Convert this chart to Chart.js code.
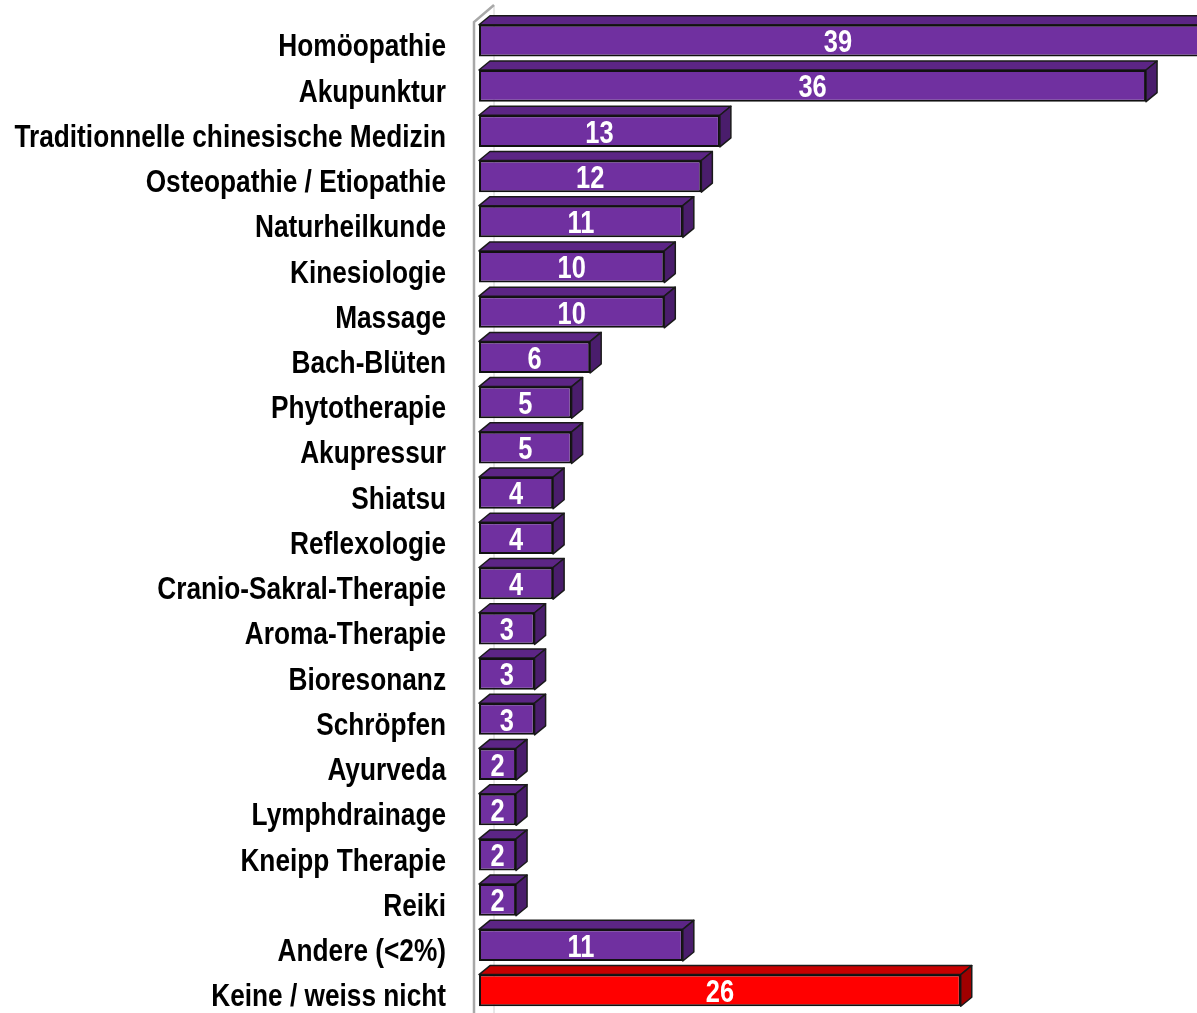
<!DOCTYPE html>
<html>
<head>
<meta charset="utf-8">
<script src="https://cdn.jsdelivr.net/npm/chart.js@4.4.1/dist/chart.umd.min.js"></script>
<style>
  html, body { margin: 0; padding: 0; background: #fff; }
  #wrap { width: 1197px; height: 1013px; position: relative; }
</style>
</head>
<body>
<div id="wrap"><canvas id="methodsChart"></canvas></div>
<script>
// Kategorien und Werte (%)
const CATEGORIES = [
  'Homöopathie', 'Akupunktur', 'Traditionnelle chinesische Medizin',
  'Osteopathie / Etiopathie', 'Naturheilkunde', 'Kinesiologie', 'Massage',
  'Bach-Blüten', 'Phytotherapie', 'Akupressur', 'Shiatsu', 'Reflexologie',
  'Cranio-Sakral-Therapie', 'Aroma-Therapie', 'Bioresonanz', 'Schröpfen',
  'Ayurveda', 'Lymphdrainage', 'Kneipp Therapie', 'Reiki',
  'Andere (<2%)', 'Keine / weiss nicht'
];
const VALUES = [39, 36, 13, 12, 11, 10, 10, 6, 5, 5, 4, 4, 4, 3, 3, 3, 2, 2, 2, 2, 11, 26];

// Farben: Front / Oberseite / Seite
const PURPLE = { front: '#7030A0', top: '#5C2585', side: '#4A1D6C' };
const RED    = { front: '#FF0000', top: '#C80000', side: '#A00000' };
const PALETTE = CATEGORIES.map(c => c.startsWith('Keine') ? RED : PURPLE);

// keine Narrow-Schrift vorhanden -> horizontal stauchen
const FONT = "'Liberation Sans', Arial, sans-serif";
const NARROW = 0.82;
const DEPTH_X = 11;
const DEPTH_Y = 9;

function narrowText(ctx, text, x, y) {
  ctx.save();
  ctx.translate(x, y);
  ctx.scale(NARROW, 1);
  ctx.fillText(text, 0, 0);
  ctx.restore();
}

// Wand links (3D-Achse)
const wallPlugin = {
  id: 'wall',
  beforeDatasetsDraw(chart) {
    const { ctx, chartArea } = chart;
    const x0 = chartArea.left - 5;
    ctx.save();
    ctx.strokeStyle = '#d0d0d0';
    ctx.lineWidth = 1;
    ctx.beginPath();
    ctx.moveTo(x0 + 20, 5);
    ctx.lineTo(x0 + 20, chart.height);
    ctx.stroke();
    ctx.strokeStyle = '#a8a8a8';
    ctx.lineWidth = 2.5;
    ctx.beginPath();
    ctx.moveTo(x0 + 20, 5);
    ctx.lineTo(x0, 22);
    ctx.lineTo(x0, chart.height);
    ctx.stroke();
    ctx.restore();
  }
};

// Oberseite und Seite der Balken, Werte, Kategorienamen
const depthPlugin = {
  id: 'depth',
  beforeDatasetsDraw(chart) {
    const { ctx } = chart;
    const meta = chart.getDatasetMeta(0);
    ctx.save();
    ctx.lineWidth = 1.5;
    ctx.strokeStyle = '#1a1a1a';
    ctx.lineJoin = 'round';
    meta.data.forEach((bar, i) => {
      const left = Math.min(bar.base, bar.x);
      const right = Math.max(bar.base, bar.x);
      const top = bar.y - bar.height / 2;
      const bottom = bar.y + bar.height / 2;
      const col = PALETTE[i];
      ctx.fillStyle = col.top;
      ctx.beginPath();
      ctx.moveTo(left, top);
      ctx.lineTo(left + DEPTH_X, top - DEPTH_Y);
      ctx.lineTo(right + DEPTH_X, top - DEPTH_Y);
      ctx.lineTo(right, top);
      ctx.closePath();
      ctx.fill();
      ctx.stroke();
      ctx.fillStyle = col.side;
      ctx.beginPath();
      ctx.moveTo(right, top);
      ctx.lineTo(right + DEPTH_X, top - DEPTH_Y);
      ctx.lineTo(right + DEPTH_X, bottom - DEPTH_Y);
      ctx.lineTo(right, bottom);
      ctx.closePath();
      ctx.fill();
      ctx.stroke();
    });
    ctx.restore();
  },
  afterDatasetsDraw(chart) {
    const { ctx } = chart;
    const meta = chart.getDatasetMeta(0);
    const yScale = chart.scales.y;
    ctx.save();
    ctx.textBaseline = 'middle';
    // Werte in den Balken
    ctx.fillStyle = '#ffffff';
    ctx.font = `bold 31px ${FONT}`;
    ctx.textAlign = 'center';
    meta.data.forEach((bar, i) => {
      const left = Math.min(bar.base, bar.x);
      const right = Math.min(Math.max(bar.base, bar.x), chart.width);
      narrowText(ctx, String(VALUES[i]), (left + right) / 2, bar.y + 3);
    });
    // Kategorienamen links
    ctx.fillStyle = '#000000';
    ctx.font = `bold 32px ${FONT}`;
    ctx.textAlign = 'right';
    CATEGORIES.forEach((label, i) => {
      narrowText(ctx, label, yScale.right - 33, yScale.getPixelForValue(i) + 7);
    });
    ctx.restore();
  }
};

const ctx = document.getElementById('methodsChart').getContext('2d');
new Chart(ctx, {
  type: 'bar',
  data: {
    labels: CATEGORIES,
    datasets: [{
      data: VALUES,
      backgroundColor: PALETTE.map(p => p.front),
      borderColor: '#111111',
      borderWidth: 2,
      borderSkipped: false,
      barPercentage: 0.7,
      categoryPercentage: 1
    }]
  },
  options: {
    indexAxis: 'y',
    responsive: true,
    maintainAspectRatio: false,
    animation: false,
    layout: { padding: { top: 18, bottom: -3, left: 0, right: 0 } },
    plugins: {
      legend: { display: false },
      tooltip: { enabled: false }
    },
    scales: {
      x: {
        display: false,
        min: 0,
        max: 38.75
      },
      y: {
        grid: { display: false, drawTicks: false },
        border: { display: false },
        ticks: { display: false },
        afterFit(scale) {
          scale.width = 479;
          scale.paddingTop = 0;
          scale.paddingBottom = 0;
        }
      }
    }
  },
  plugins: [wallPlugin, depthPlugin]
});
</script>
</body>
</html>
